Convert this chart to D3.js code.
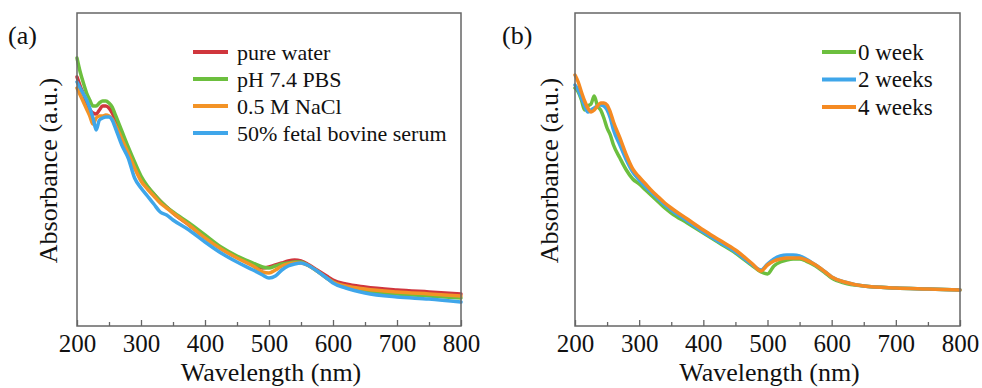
<!DOCTYPE html>
<html>
<head>
<meta charset="utf-8">
<script src="https://cdn.jsdelivr.net/npm/d3@7"></script>
<style>
  html, body { margin: 0; padding: 0; background: #fff; }
  svg { display: block; }
  svg text { fill: #111; }
</style>
</head>
<body>
<svg id="chart" width="982" height="388"></svg>
<script>
// ---------------- DATA ----------------
const wavelengths = [200,205,210,215,220,225,230,235,240,245,250,255,260,270,280,290,300,310,320,330,340,350,375,400,425,450,475,490,500,510,520,530,540,550,560,575,590,600,620,650,700,750,800];
const xTicksMajor = [200,300,400,500,600,700,800];
const xTicksMinor = [250,350,450,550,650,750];

// Panel (a): stability in different media
const labelsA = ["pure water", "pH 7.4 PBS", "0.5 M NaCl", "50% fetal bovine serum"];
const pureWater = [2.49,2.40,2.32,2.23,2.16,2.13,2.12,2.16,2.20,2.20,2.18,2.13,2.06,1.90,1.74,1.59,1.47,1.39,1.32,1.25,1.19,1.13,1.01,0.89,0.78,0.69,0.62,0.58,0.59,0.61,0.63,0.65,0.66,0.65,0.62,0.56,0.50,0.46,0.42,0.39,0.36,0.34,0.32];
const pbs       = [2.68,2.54,2.43,2.33,2.26,2.20,2.20,2.23,2.25,2.25,2.23,2.19,2.11,1.95,1.79,1.64,1.50,1.40,1.32,1.25,1.19,1.14,1.03,0.91,0.79,0.70,0.63,0.59,0.58,0.60,0.62,0.63,0.64,0.64,0.61,0.55,0.48,0.44,0.39,0.35,0.32,0.30,0.28];
const nacl      = [2.38,2.31,2.24,2.17,2.10,2.02,2.08,2.10,2.10,2.11,2.10,2.07,2.01,1.87,1.73,1.58,1.45,1.37,1.30,1.23,1.18,1.13,1.01,0.88,0.77,0.68,0.60,0.54,0.53,0.56,0.60,0.62,0.63,0.63,0.61,0.55,0.48,0.44,0.40,0.37,0.34,0.32,0.30];
const fbs       = [2.44,2.38,2.32,2.26,2.18,2.08,1.96,2.06,2.08,2.09,2.09,2.06,1.98,1.81,1.68,1.48,1.38,1.30,1.22,1.14,1.11,1.06,0.96,0.84,0.73,0.64,0.56,0.51,0.48,0.50,0.56,0.60,0.62,0.63,0.61,0.55,0.48,0.43,0.38,0.33,0.29,0.27,0.24];
const colorsA = ["#d0363d", "#6cbf3e", "#f39326", "#3fa6ea"];

// Panel (b): stability over time
const labelsB = ["0 week", "2 weeks", "4 weeks"];
const week0 = [2.38,2.34,2.26,2.16,2.20,2.22,2.30,2.20,2.16,2.08,1.98,1.91,1.81,1.68,1.56,1.47,1.42,1.36,1.30,1.24,1.18,1.13,1.03,0.93,0.83,0.73,0.61,0.54,0.52,0.60,0.64,0.66,0.67,0.67,0.65,0.60,0.53,0.48,0.43,0.40,0.38,0.37,0.36];
const week2 = [2.41,2.36,2.28,2.20,2.14,2.16,2.18,2.20,2.21,2.20,2.16,2.08,1.96,1.81,1.66,1.54,1.46,1.39,1.33,1.27,1.21,1.16,1.05,0.94,0.84,0.74,0.62,0.56,0.62,0.67,0.70,0.71,0.71,0.70,0.67,0.61,0.54,0.49,0.44,0.40,0.38,0.37,0.36];
const week4 = [2.51,2.44,2.34,2.25,2.18,2.14,2.16,2.20,2.23,2.23,2.21,2.14,2.04,1.88,1.71,1.57,1.49,1.42,1.35,1.29,1.23,1.18,1.07,0.96,0.86,0.76,0.63,0.55,0.61,0.65,0.67,0.68,0.68,0.68,0.66,0.61,0.54,0.49,0.44,0.40,0.38,0.37,0.36];
const colorsB = ["#6cbf3e", "#3fa6ea", "#f58a22"];

const yDomain = [0, 3.13];

// ---------------- DRAW ----------------
const FONT = "Liberation Serif, Tinos, Noto Serif, DejaVu Serif, Times New Roman, Times, serif";
const svg = d3.select("#chart");

function panel(opt) {
  const g = svg.append("g").style("font-family", FONT);
  const x = d3.scaleLinear().domain([200, 800]).range([opt.left, opt.right]);
  const y = d3.scaleLinear().domain(yDomain).range([opt.bottom, opt.top]);

  // minor ticks (no labels)
  g.append("g")
    .attr("transform", `translate(0,${opt.bottom})`)
    .call(d3.axisBottom(x).tickValues(xTicksMinor).tickFormat("").tickSizeInner(-4).tickSizeOuter(0))
    .call(a => a.select(".domain").remove())
    .call(a => a.selectAll("text").remove())
    .call(a => a.selectAll("line").attr("stroke", "#666").attr("stroke-width", 1.3));

  // major ticks + labels
  g.append("g")
    .attr("transform", `translate(0,${opt.bottom})`)
    .call(d3.axisBottom(x).tickValues(xTicksMajor).tickFormat(d3.format("d")).tickSizeInner(-6).tickSizeOuter(0).tickPadding(8))
    .call(a => a.select(".domain").remove())
    .call(a => a.selectAll("line").attr("stroke", "#666").attr("stroke-width", 1.3))
    .call(a => a.selectAll("text").style("font-family", FONT).style("font-size", "25px").attr("fill", "#111"));

  // lines
  const line = d3.line()
    .x((d, i) => x(wavelengths[i]))
    .y(d => y(d))
    .curve(d3.curveMonotoneX);
  opt.series.forEach((s, i) => {
    g.append("path")
      .datum(s)
      .attr("d", line)
      .attr("fill", "none")
      .attr("stroke", opt.colors[i])
      .attr("stroke-width", 3.5)
      .attr("stroke-linejoin", "round")
      .attr("stroke-linecap", "round");
  });

  // frame
  g.append("rect")
    .attr("x", opt.left).attr("y", opt.top)
    .attr("width", opt.right - opt.left).attr("height", opt.bottom - opt.top)
    .attr("fill", "none").attr("stroke", "#666").attr("stroke-width", 1.5);

  // axis titles
  g.append("text")
    .attr("x", (opt.left + opt.right) / 2 + 2).attr("y", 380.5)
    .attr("text-anchor", "middle").style("font-size", "26px").style("font-family", FONT)
    .text("Wavelength (nm)");
  g.append("text")
    .attr("transform", `translate(${opt.ylabX},${(opt.top + opt.bottom) / 2 + 1}) rotate(-90)`)
    .attr("text-anchor", "middle").style("font-size", "26px").style("font-family", FONT)
    .text("Absorbance (a.u.)");

  // panel letter
  g.append("text")
    .attr("x", opt.letterX).attr("y", 44)
    .style("font-size", "26px").style("font-family", FONT)
    .text(opt.letter);

  // legend
  opt.labels.forEach((lab, i) => {
    const ly = opt.legTop + i * opt.legStep;
    g.append("line")
      .attr("x1", opt.legX1).attr("x2", opt.legX2)
      .attr("y1", ly).attr("y2", ly)
      .attr("stroke", opt.colors[i]).attr("stroke-width", 4);
    g.append("text")
      .attr("x", opt.legTextX).attr("y", ly + 7.5)
      .style("font-size", opt.legFont + "px").style("font-family", FONT)
      .text(lab);
  });
}

panel({
  left: 77, right: 461, top: 13, bottom: 326,
  series: [pureWater, pbs, nacl, fbs], colors: colorsA, labels: labelsA,
  ylabX: 57, letter: "(a)", letterX: 8,
  legX1: 193, legX2: 228, legTextX: 237, legTop: 52, legStep: 27, legFont: 22
});

panel({
  left: 575, right: 960, top: 13, bottom: 326,
  series: [week0, week2, week4], colors: colorsB, labels: labelsB,
  ylabX: 558, letter: "(b)", letterX: 502,
  legX1: 822, legX2: 856, legTextX: 858, legTop: 52, legStep: 27.5, legFont: 23
});
</script>
</body>
</html>
